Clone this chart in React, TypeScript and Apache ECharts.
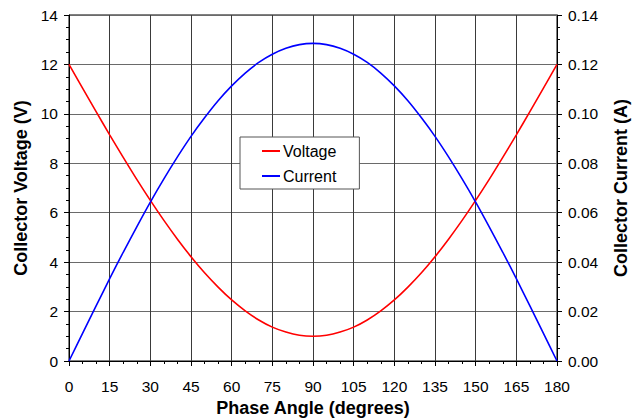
import React, { useEffect, useRef } from "react";
import * as echarts from "echarts";

const angles = [0, 5, 10, 15, 20, 25, 30, 35, 40, 45, 50, 55, 60, 65, 70, 75, 80, 85, 90,
  95, 100, 105, 110, 115, 120, 125, 130, 135, 140, 145, 150, 155, 160, 165, 170, 175, 180];
const voltage = [12.0, 11.04, 10.09, 9.15, 8.24, 7.35, 6.5, 5.69, 4.93, 4.22, 3.57, 2.99, 2.47, 2.03, 1.66, 1.37, 1.17, 1.04, 1.0,
  1.04, 1.17, 1.37, 1.66, 2.03, 2.47, 2.99, 3.57, 4.22, 4.93, 5.69, 6.5, 7.35, 8.24, 9.15, 10.09, 11.04, 12.0];
const current = [0.0, 0.0112, 0.0223, 0.0333, 0.044, 0.0543, 0.0643, 0.0737, 0.0826, 0.0909, 0.0984, 0.1053, 0.1113, 0.1165, 0.1208, 0.1241, 0.1265, 0.128, 0.1285,
  0.128, 0.1265, 0.1241, 0.1208, 0.1165, 0.1113, 0.1053, 0.0984, 0.0909, 0.0826, 0.0737, 0.0643, 0.0543, 0.044, 0.0333, 0.0223, 0.0112, 0.0];

const xName = "Phase Angle (degrees)";
const yLeftName = "Collector Voltage (V)";
const yRightName = "Collector Current (A)";

const FONT = "'Liberation Sans', Arial, sans-serif";

export default function App() {
  const ref = useRef<HTMLDivElement>(null);
  useEffect(() => {
    if (!ref.current) return;
    const chart = echarts.init(ref.current, null, { renderer: "svg" });
    const tickLabel = { color: "#000", fontSize: 15.5, fontFamily: FONT };
    const nameStyle = { color: "#000", fontSize: 18, fontWeight: "bold" as const, fontFamily: FONT };
    chart.setOption({
      animation: false,
      backgroundColor: "#fff",
      grid: {
        left: 69, right: 78, top: 15, bottom: 59,
        show: true, borderColor: "#000", borderWidth: 1,
        containLabel: false, outerBoundsMode: "none",
      },
      legend: {
        orient: "vertical",
        left: 240,
        top: 137,
        backgroundColor: "#fff",
        borderColor: "#555",
        borderWidth: 1,
        borderRadius: 0,
        padding: [6, 23, 5, 22],
        itemGap: 9,
        itemWidth: 18,
        itemHeight: 2,
        icon: "rect",
        textStyle: { color: "#000", fontSize: 16, fontFamily: FONT, padding: [0, 0, 0, -2] },
        data: ["Voltage", "Current"],
      },
      xAxis: {
        type: "value",
        min: 0,
        max: 180,
        interval: 15,
        name: xName,
        nameLocation: "middle",
        nameGap: 38,
        nameTextStyle: nameStyle,
        axisLine: { show: true, lineStyle: { color: "#000", width: 1 } },
        axisTick: { show: true, inside: false, length: 5, lineStyle: { color: "#000" } },
        minorTick: { show: true, splitNumber: 3, length: 3, lineStyle: { color: "#000" } },
        axisLabel: { ...tickLabel, margin: 17 },
        splitLine: { show: true, lineStyle: { color: "#3a3a3a", width: 1 } },
      },
      yAxis: [
        {
          type: "value",
          min: 0,
          max: 14,
          interval: 2,
          position: "left",
          name: yLeftName,
          nameLocation: "middle",
          nameGap: 38,
          nameTextStyle: nameStyle,
          axisLine: { show: true, lineStyle: { color: "#000", width: 1 } },
          axisTick: { show: true, inside: false, length: 5, lineStyle: { color: "#000" } },
          minorTick: { show: true, splitNumber: 4, length: 3, lineStyle: { color: "#000" } },
          axisLabel: { ...tickLabel, margin: 11 },
          splitLine: { show: true, lineStyle: { color: "#6a6a6a", width: 1 } },
        },
        {
          type: "value",
          min: 0,
          max: 0.14,
          interval: 0.02,
          position: "right",
          name: yRightName,
          nameLocation: "middle",
          nameGap: 55,
          nameRotate: 90,
          nameTextStyle: nameStyle,
          axisLine: { show: true, lineStyle: { color: "#000", width: 1 } },
          axisTick: { show: true, inside: false, length: 5, lineStyle: { color: "#000" } },
          minorTick: { show: true, splitNumber: 4, length: 3, lineStyle: { color: "#000" } },
          axisLabel: { ...tickLabel, margin: 11, formatter: (v: number) => v.toFixed(2) },
          splitLine: { show: false },
        },
      ],
      series: [
        {
          name: "Voltage",
          type: "line",
          yAxisIndex: 0,
          data: angles.map((a, i) => [a, voltage[i]]),
          symbol: "none",
          smooth: 0.3,
          lineStyle: { color: "#ff0000", width: 1.6 },
          itemStyle: { color: "#ff0000" },
        },
        {
          name: "Current",
          type: "line",
          yAxisIndex: 1,
          data: angles.map((a, i) => [a, current[i]]),
          symbol: "none",
          smooth: 0.3,
          lineStyle: { color: "#0000ff", width: 1.6 },
          itemStyle: { color: "#0000ff" },
        },
      ],
    });
    return () => chart.dispose();
  }, []);
  return <div ref={ref} style={{ width: 635, height: 420, position: "absolute", left: 0, top: 0 }} />;
}
